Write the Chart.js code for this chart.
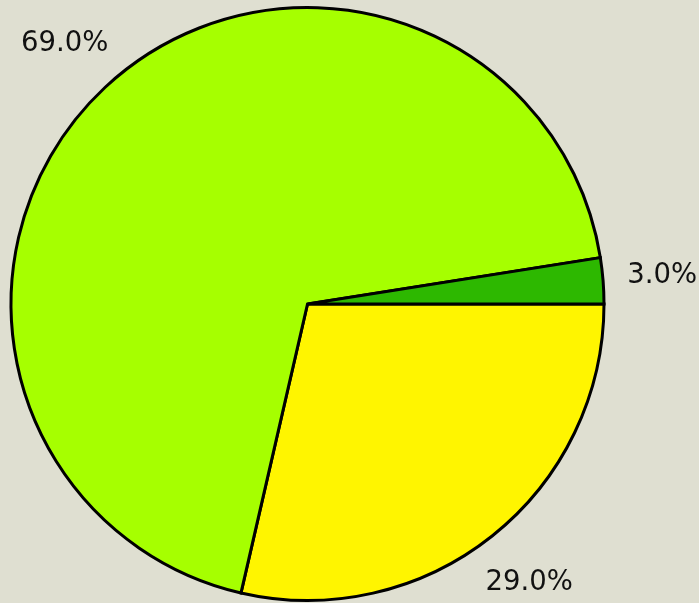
<!DOCTYPE html>
<html>
<head>
<meta charset="utf-8">
<script src="https://cdn.jsdelivr.net/npm/chart.js@4"></script>
<style>
  html, body { margin: 0; padding: 0; background: #dfdfd1; }
  #wrap { width: 699px; height: 603px; position: relative; }
</style>
</head>
<body>
<div id="wrap"><canvas id="c" width="699" height="603"></canvas></div>
<script>
// Slices listed clockwise starting at 3 o'clock
const categories = ["C", "B", "A"];
const values = [28.6, 68.9, 2.5];
const pctLabels = ["29.0%", "69.0%", "3.0%"];

const sliceColors = ["#fff500", "#a6ff00", "#2db800"];

const pctPlugin = {
  id: 'pctLabels',
  afterDatasetsDraw(chart) {
    const ctx = chart.ctx;
    const meta = chart.getDatasetMeta(0);
    ctx.save();
    ctx.font = '27.5px "DejaVu Sans"';
    ctx.fillStyle = '#111111';
    ctx.textAlign = 'center';
    ctx.textBaseline = 'middle';
    meta.data.forEach((arc, i) => {
      const p = arc.getProps(['x', 'y', 'startAngle', 'endAngle', 'outerRadius'], true);
      const mid = (p.startAngle + p.endAngle) / 2;
      const r = p.outerRadius * 1.2;
      ctx.fillText(pctLabels[i], p.x + Math.cos(mid) * r, p.y + Math.sin(mid) * r);
    });
    ctx.restore();
  }
};

new Chart(document.getElementById('c'), {
  type: 'pie',
  data: {
    labels: categories,
    datasets: [{
      data: values,
      backgroundColor: sliceColors,
      borderColor: '#000000',
      borderWidth: 3,
      borderJoinStyle: 'miter'
    }]
  },
  options: {
    responsive: false,
    animation: false,
    rotation: 90,
    layout: { padding: { left: 9.5, right: 93.5, top: 6, bottom: 1 } },
    plugins: {
      legend: { display: false },
      tooltip: { enabled: false }
    }
  },
  plugins: [pctPlugin]
});
</script>
</body>
</html>
